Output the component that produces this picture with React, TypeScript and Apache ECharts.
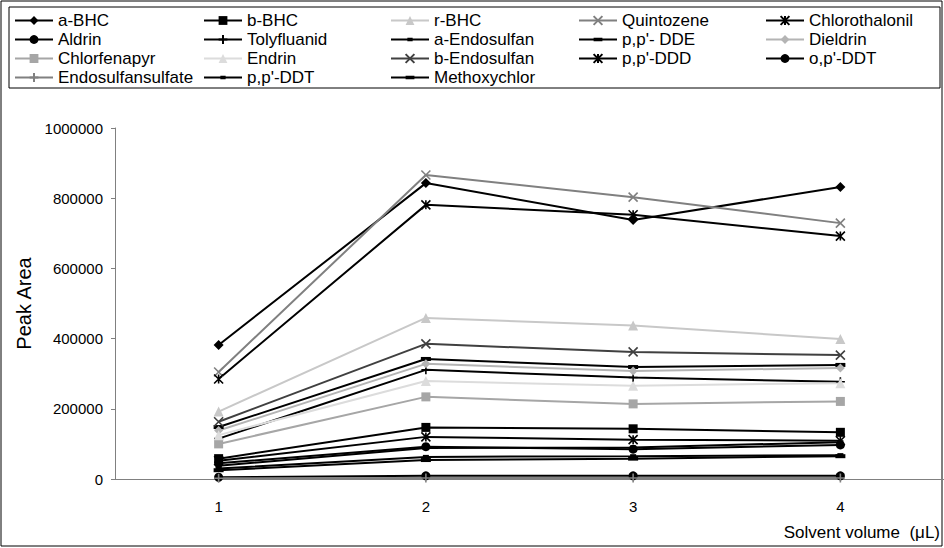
import React, { useEffect, useRef } from "react";
import * as echarts from "echarts";

const categories = ["1", "2", "3", "4"];
const aBHC = [382000, 843000, 738000, 832000];
const bBHC = [58000, 147000, 143000, 133000];
const rBHC = [192000, 459000, 437000, 399000];
const quintozene = [305000, 866000, 803000, 729000];
const chlorothalonil = [285000, 781000, 753000, 692000];
const aldrin = [45000, 92000, 85000, 97000];
const tolyfluanid = [115000, 311000, 289000, 277000];
const aEndosulfan = [38000, 88000, 90000, 105000];
const ppDDE = [148000, 342000, 319000, 325000];
const dieldrin = [138000, 328000, 308000, 316000];
const chlorfenapyr = [100000, 234000, 214000, 221000];
const endrin = [125000, 279000, 266000, 273000];
const bEndosulfan = [163000, 385000, 362000, 353000];
const ppDDD = [52000, 120000, 112000, 109000];
const opDDT = [5000, 9000, 9000, 9000];
const endosulfansulfate = [2000, 3000, 3000, 3000];
const ppDDT = [30000, 63000, 65000, 68000];
const methoxychlor = [25000, 54000, 58000, 65000];

const yTicks = [0, 200000, 400000, 600000, 800000, 1000000];

const X_PATH = "path://M0,0L10,10M10,0L0,10";
const AST_PATH = "path://M0,0L10,10M10,0L0,10M5,0L5,10";
const PLUS_PATH = "path://M0,5L10,5M5,0L5,10";
const DASH_WIDE = "path://M0,0M10,10M0,3h10v4h-10z";
const DASH_SMALL = "path://M0,0M10,10M2,3h6v4h-6z";

type S = { name: string; data: number[]; color: string; symbol: string; size: number; stroke?: boolean };

const seriesDefs: S[] = [
  { name: "a-BHC", data: aBHC, color: "#000000", symbol: "diamond", size: 10 },
  { name: "b-BHC", data: bBHC, color: "#000000", symbol: "rect", size: 9 },
  { name: "r-BHC", data: rBHC, color: "#c8c8c8", symbol: "triangle", size: 10 },
  { name: "Quintozene", data: quintozene, color: "#808080", symbol: X_PATH, size: 9, stroke: true },
  { name: "Chlorothalonil", data: chlorothalonil, color: "#000000", symbol: AST_PATH, size: 9, stroke: true },
  { name: "Aldrin", data: aldrin, color: "#000000", symbol: "circle", size: 9 },
  { name: "Tolyfluanid", data: tolyfluanid, color: "#000000", symbol: PLUS_PATH, size: 9, stroke: true },
  { name: "a-Endosulfan", data: aEndosulfan, color: "#000000", symbol: DASH_SMALL, size: 10 },
  { name: "p,p'- DDE", data: ppDDE, color: "#000000", symbol: DASH_WIDE, size: 10 },
  { name: "Dieldrin", data: dieldrin, color: "#b4b4b4", symbol: "diamond", size: 9 },
  { name: "Chlorfenapyr", data: chlorfenapyr, color: "#a6a6a6", symbol: "rect", size: 9 },
  { name: "Endrin", data: endrin, color: "#dcdcdc", symbol: "triangle", size: 10 },
  { name: "b-Endosulfan", data: bEndosulfan, color: "#404040", symbol: X_PATH, size: 9, stroke: true },
  { name: "p,p'-DDD", data: ppDDD, color: "#000000", symbol: AST_PATH, size: 9, stroke: true },
  { name: "o,p'-DDT", data: opDDT, color: "#000000", symbol: "circle", size: 9 },
  { name: "Endosulfansulfate", data: endosulfansulfate, color: "#808080", symbol: PLUS_PATH, size: 9, stroke: true },
  { name: "p,p'-DDT", data: ppDDT, color: "#000000", symbol: DASH_SMALL, size: 10 },
  { name: "Methoxychlor", data: methoxychlor, color: "#000000", symbol: DASH_WIDE, size: 10 },
];

const legendCols = [
  ["a-BHC", "Aldrin", "Chlorfenapyr", "Endosulfansulfate"],
  ["b-BHC", "Tolyfluanid", "Endrin", "p,p'-DDT"],
  ["r-BHC", "a-Endosulfan", "b-Endosulfan", "Methoxychlor"],
  ["Quintozene", "p,p'- DDE", "p,p'-DDD"],
  ["Chlorothalonil", "Dieldrin", "o,p'-DDT"],
];
const legendX = [14, 203, 390, 578, 765];

const FONT = "'Liberation Sans', Arial, sans-serif";

export default function App() {
  const ref = useRef<HTMLDivElement>(null);
  useEffect(() => {
    if (!ref.current) return;
    const chart = echarts.init(ref.current, undefined, { renderer: "svg" });
    const option = {
      animation: false,
      backgroundColor: "#ffffff",
      textStyle: { fontFamily: FONT },
      graphic: [
        { type: "rect", shape: { x: 1, y: 1, width: 941, height: 545 }, style: { fill: "none", stroke: "#000", lineWidth: 1 }, silent: true },
        { type: "rect", shape: { x: 9, y: 7, width: 931, height: 81 }, style: { fill: "none", stroke: "#000", lineWidth: 1 }, silent: true },
        { type: "text", right: 4, top: 524, style: { text: "Solvent volume  (μL)", fill: "#000", font: `17px ${FONT}` } },
      ],
      legend: legendCols.map((col, i) => ({
        data: col,
        orient: "vertical",
        left: legendX[i],
        top: 12,
        itemWidth: 38,
        itemHeight: 11,
        itemGap: 2,
        textStyle: { fontSize: 17, lineHeight: 17, color: "#000", fontFamily: FONT },
        padding: 0,
        selectedMode: false,
      })),
      grid: { left: 115, top: 128, bottom: 69, right: -7, containLabel: false },
      xAxis: {
        type: "category",
        data: categories,
        boundaryGap: true,
        axisLine: { lineStyle: { color: "#808080", width: 1 } },
        axisTick: { inside: true, length: 5, lineStyle: { color: "#808080" } },
        axisLabel: { color: "#000", fontSize: 15, margin: 20 },
      },
      yAxis: {
        type: "value",
        min: 0,
        max: yTicks[yTicks.length - 1],
        interval: 200000,
        name: "Peak Area",
        nameLocation: "middle",
        nameGap: 76,
        nameTextStyle: { fontSize: 20, color: "#000" },
        axisLine: { show: true, lineStyle: { color: "#808080", width: 1 } },
        axisTick: { show: true, length: 4, lineStyle: { color: "#808080" } },
        axisLabel: { color: "#000", fontSize: 15, margin: 12, formatter: (v: number) => String(v) },
        splitLine: { show: false },
      },
      series: seriesDefs.map((s) => ({
        name: s.name,
        type: "line",
        data: s.data,
        symbol: s.symbol,
        symbolSize: s.size,
        showSymbol: true,
        lineStyle: { color: s.color, width: 2 },
        itemStyle: s.stroke
          ? { color: s.color, borderColor: s.color, borderWidth: 1.6 }
          : { color: s.color, borderWidth: 0 },
        emphasis: { disabled: true },
      })),
    };
    chart.setOption(option as any);
    return () => chart.dispose();
  }, []);
  return (
    <div
      ref={ref}
      style={{ position: "fixed", left: 0, top: 0, width: 944, height: 548, background: "#fff" }}
    />
  );
}
